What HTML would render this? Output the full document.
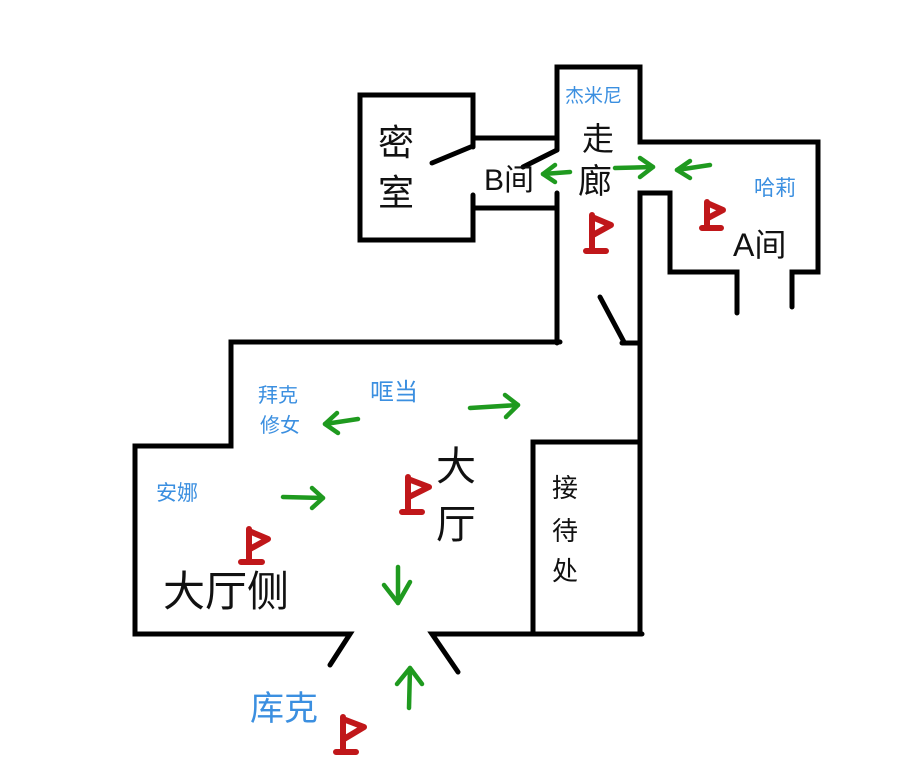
<!DOCTYPE html>
<html><head><meta charset="utf-8"><style>
html,body{margin:0;padding:0;background:#fff;}
svg{display:block}
.b{font-family:"Liberation Sans","Noto Sans CJK SC",sans-serif;fill:#3b8fe0;}
.k{font-family:"Liberation Sans","Noto Sans CJK SC",sans-serif;fill:#111;}
</style></head><body>
<svg width="917" height="782" viewBox="0 0 917 782" xmlns="http://www.w3.org/2000/svg">
<g stroke="#000" stroke-width="5" stroke-linecap="round" fill="none">
<!-- 密室 -->
<polyline points="473,147 473,95 360,95 360,240 473,240 473,195"/>
<line x1="432" y1="163" x2="473" y2="146"/>
<line x1="473" y1="138" x2="557" y2="138"/>
<line x1="473" y1="208" x2="557" y2="208"/>
<!-- corridor -->
<polyline points="557,150 557,67 640,67 640,142 818,142 818,272 792,272 792,307"/>
<line x1="557" y1="150" x2="523" y2="167"/>
<line x1="557" y1="193" x2="557" y2="343"/>
<polyline points="640,634 640,193 670,193 670,272 737,272 737,313"/>
<line x1="600" y1="297" x2="624" y2="342"/>
<line x1="622" y1="343" x2="640" y2="343"/>
<!-- hall -->
<polyline points="560,342 231,342 231,446 135,446 135,634 350,634 330,665"/>
<polyline points="458,672 432,634 642,634"/>
<polyline points="533,634 533,442 640,442"/>
</g>
<!-- green arrows -->
<g stroke="#1f9a1f" stroke-width="4.5" stroke-linecap="round" stroke-linejoin="round" fill="none">
<line x1="570" y1="172" x2="543" y2="174"/><polyline points="555,165 543,174 555,182"/>
<line x1="615" y1="168" x2="653" y2="167"/><polyline points="640,158 653,167 640,177"/>
<line x1="710" y1="165" x2="677" y2="170"/><polyline points="690,161 677,170 690,178"/>
<line x1="358" y1="419" x2="325" y2="424"/><polyline points="337,413 325,424 338,433"/>
<line x1="470" y1="408" x2="518" y2="405"/><polyline points="505,395 518,405 506,417"/>
<line x1="283" y1="497" x2="323" y2="498"/><polyline points="312,488 323,498 312,508"/>
<line x1="398" y1="567" x2="398" y2="603"/><polyline points="384,585 398,603 410,582"/>
<line x1="409" y1="708" x2="410" y2="668"/><polyline points="397,684 410,668 422,684"/>
</g>
<!-- flags -->
<g stroke="#c0171a" stroke-width="6" stroke-linecap="round" stroke-linejoin="round" fill="none">
<g transform="translate(587,213)"><path d="M5,2 V36 M-1,38 H19 M5,4 L24,12 L6,22"/></g>
<g transform="translate(703,200)"><path d="M4,2 V28 M-1,28 H18 M4,3 L20,10 L5,18"/></g>
<g transform="translate(403,475)"><path d="M5,2 V36 M-1,37 H19 M5,4 L26,12 L6,22"/></g>
<g transform="translate(244,527)"><path d="M5,2 V34 M-3,35 H18 M5,4 L24,12 L6,22"/></g>
<g transform="translate(334,715)"><path d="M9,2 V35 M2,37 H22 M9,4 L30,12 L10,24"/></g>
</g>
<!-- labels -->
<text class="b" x="565" y="102" font-size="19">杰米尼</text>
<text class="k" x="582" y="150" font-size="32">走</text>
<text class="k" x="578" y="193" font-size="34">廊</text>
<text class="k" x="484" y="190" font-size="30">B间</text>
<text class="k" x="378" y="155" font-size="36">密</text>
<text class="k" x="378" y="205" font-size="36">室</text>
<text class="b" x="754" y="195" font-size="21">哈莉</text>
<text class="k" x="733" y="256" font-size="32">A间</text>
<text class="b" x="258" y="402" font-size="20">拜克</text>
<text class="b" x="260" y="432" font-size="20">修女</text>
<text class="b" x="370" y="400" font-size="24">哐当</text>
<text class="k" x="436" y="480" font-size="40">大</text>
<text class="k" x="436" y="538" font-size="40">厅</text>
<text class="k" x="552" y="497" font-size="26">接</text>
<text class="k" x="552" y="540" font-size="26">待</text>
<text class="k" x="552" y="580" font-size="26">处</text>
<text class="b" x="156" y="500" font-size="21">安娜</text>
<text class="k" x="163" y="606" font-size="42">大厅侧</text>
<text class="b" x="250" y="720" font-size="34">库克</text>
</svg>
</body></html>
